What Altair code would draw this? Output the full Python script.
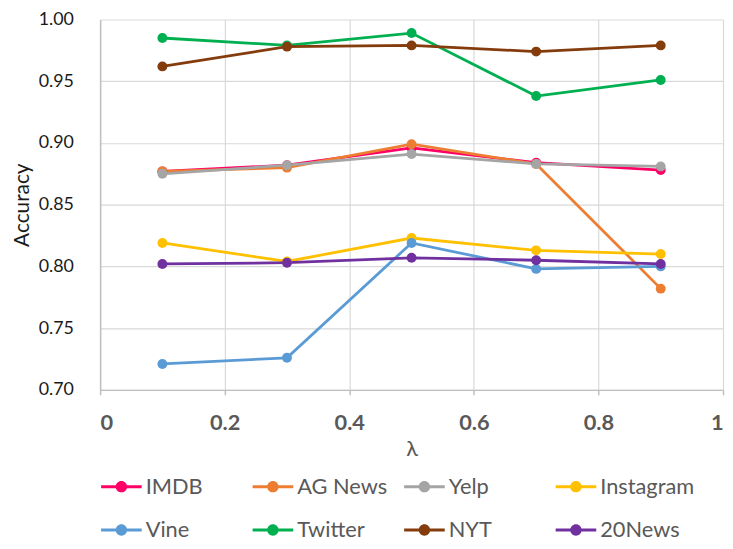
import altair as alt
import pandas as pd

lambdas = [0.1, 0.3, 0.5, 0.7, 0.9]
series_names = ["IMDB", "AG News", "Yelp", "Instagram", "Vine", "Twitter", "NYT", "20News"]
imdb = [0.877, 0.882, 0.896, 0.884, 0.878]
ag_news = [0.877, 0.880, 0.899, 0.883, 0.782]
yelp = [0.875, 0.882, 0.891, 0.883, 0.881]
instagram = [0.819, 0.804, 0.823, 0.813, 0.810]
vine = [0.721, 0.726, 0.819, 0.798, 0.800]
twitter = [0.985, 0.979, 0.989, 0.938, 0.951]
nyt = [0.962, 0.978, 0.979, 0.974, 0.979]
news20 = [0.802, 0.803, 0.807, 0.805, 0.802]
colors = ["#FF0066", "#ED7D31", "#A5A5A5", "#FFC000", "#5B9BD5", "#00B050", "#843C0C", "#7030A0"]
x_ticks = [0, 0.2, 0.4, 0.6, 0.8, 1.0]
y_ticks = [0.70, 0.75, 0.80, 0.85, 0.90, 0.95, 1.00]

all_vals = [imdb, ag_news, yelp, instagram, vine, twitter, nyt, news20]
rows = []
for name, vals in zip(series_names, all_vals):
    for lam, v in zip(lambdas, vals):
        rows.append({"lambda": lam, "Accuracy": v, "series": name})
df = pd.DataFrame(rows)

FONT = "Lato"
sym_path = ("M-1,-0.075 L1,-0.075 L1,0.075 L-1,0.075 Z "
            "M0.28,0 A0.28,0.28 0 1,1 -0.28,0 A0.28,0.28 0 1,1 0.28,0 Z")

color = alt.Color(
    "series:N",
    scale=alt.Scale(domain=series_names, range=colors),
    sort=series_names,
    legend=alt.Legend(
        title=None, orient="none", legendX=1, legendY=451, direction="horizontal",
        columns=4, gridAlign="all", columnPadding=13, rowPadding=12,
        symbolType=sym_path, symbolSize=1681, symbolStrokeWidth=0,
        labelFont=FONT, labelFontSize=22, labelColor="#595959", labelOffset=4,
        labelLimit=250,
    ),
)

x = alt.X("lambda:Q", title="λ",
          scale=alt.Scale(domain=[0, 1], nice=False),
          axis=alt.Axis(values=x_ticks, format="~g", labelFontWeight="bold", labelFontSize=22,
                        labelFont=FONT, labelColor="#595959", labelPadding=18,
                        titleFont=FONT, titleFontSize=22, titleFontWeight="normal",
                        titleColor="#595959", titlePadding=5,
                        tickColor="#BFBFBF", tickSize=5, tickWidth=1.5, domainColor="#BFBFBF",
                        domainWidth=1.5, gridColor="#D9D9D9", gridWidth=1.2))
y = alt.Y("Accuracy:Q", title="Accuracy",
          scale=alt.Scale(domain=[0.70, 1.00], nice=False, zero=False),
          axis=alt.Axis(values=y_ticks, format=".2f", labelFontSize=18, labelFont=FONT,
                        labelColor="#1A1A1A", labelPadding=27, ticks=False,
                        titleFont=FONT, titleFontSize=21, titleFontWeight="normal",
                        titleColor="#1A1A1A", titlePadding=6,
                        domainColor="#BFBFBF", domainWidth=1.5,
                        gridColor="#D9D9D9", gridWidth=1.2))

base = alt.Chart(df).encode(x=x, y=y, color=color, detail="series:N")
lines = base.mark_line(strokeWidth=2.8)
points = base.mark_point(filled=True, size=100, opacity=1)

chart = alt.layer(lines, points).properties(
    width=629, height=374,
    autosize=alt.AutoSizeParams(type="none"),
    padding={"left": 93, "top": 9, "right": 2, "bottom": 150},
).configure_view(stroke=None)

chart.save("out.html", embed_options={"renderer": "svg", "actions": False})
